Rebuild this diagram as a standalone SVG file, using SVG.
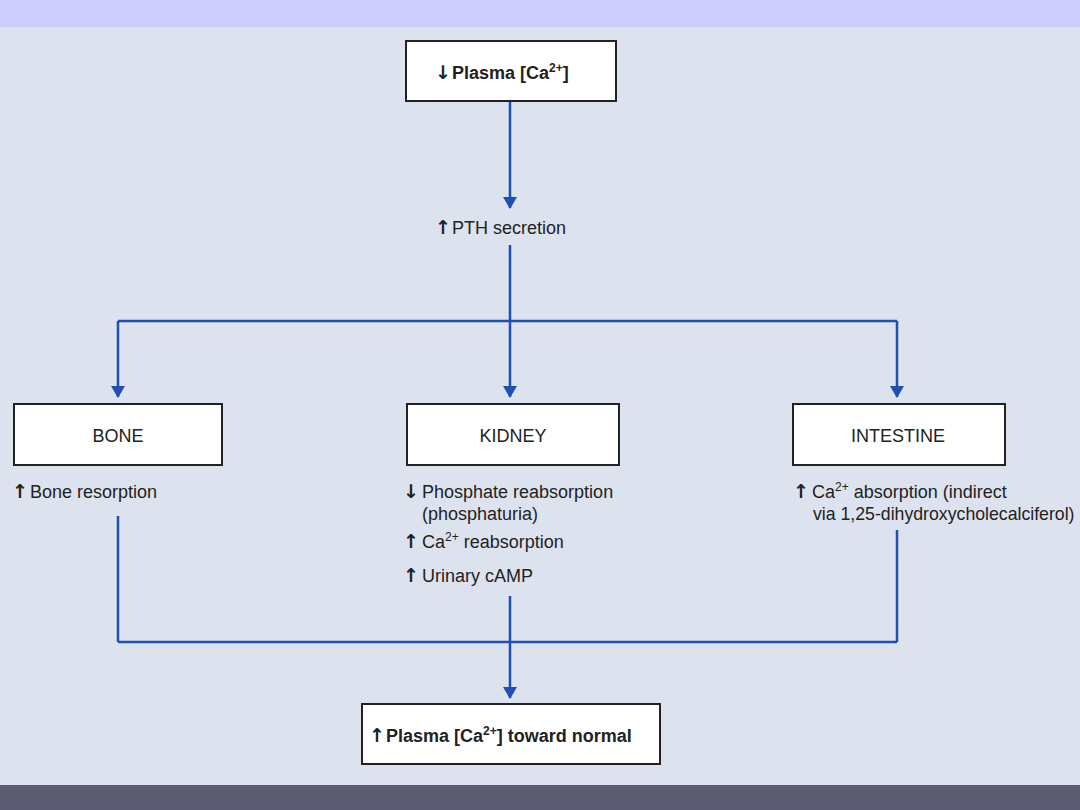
<svg xmlns="http://www.w3.org/2000/svg" width="1080" height="810" viewBox="0 0 1080 810">
<defs>
<marker id="ah" markerWidth="12" markerHeight="14" refX="11" refY="7" orient="auto" markerUnits="userSpaceOnUse" viewBox="0 0 12 14">
<path d="M0,0 L12,7 L0,14 Z" fill="#1f4fb0"/>
</marker>
<style>
.box{fill:#ffffff;stroke:#222;stroke-width:2}
.t{font-family:"Liberation Sans",Arial,sans-serif;font-size:18px;fill:#222}
.b{font-weight:bold}
.s{font-size:17.7px}
.a{font-family:"DejaVu Sans",sans-serif;font-weight:bold;font-size:19px}
.c{stroke:#1f4fb0;stroke-width:2.5;fill:none}
</style>
</defs>
<rect x="0" y="0" width="1080" height="810" fill="#dde2ef"/>
<rect x="0" y="0" width="1080" height="27" fill="#ccccfd"/>
<rect x="0" y="785" width="1080" height="25" fill="#5b5c72"/>

<g id="connectors">
<line class="c" x1="510" y1="101" x2="510" y2="208" marker-end="url(#ah)"/>
<polyline class="c" points="510,245 510,321"/>
<line class="c" x1="118" y1="321" x2="897" y2="321"/>
<line class="c" x1="118" y1="321" x2="118" y2="397" marker-end="url(#ah)"/>
<line class="c" x1="510" y1="321" x2="510" y2="397" marker-end="url(#ah)"/>
<line class="c" x1="897" y1="321" x2="897" y2="397" marker-end="url(#ah)"/>
<line class="c" x1="118" y1="516" x2="118" y2="642"/>
<line class="c" x1="897" y1="530" x2="897" y2="642"/>
<line class="c" x1="118" y1="642" x2="897" y2="642"/>
<line class="c" x1="510" y1="596" x2="510" y2="698" marker-end="url(#ah)"/>
</g>

<g id="plasma-low">
<rect class="box" x="406" y="41" width="210" height="60"/>
<text class="t b" x="435" y="79"><tspan class="a">↓</tspan><tspan x="452">Plasma [Ca</tspan><tspan font-size="12" dy="-7">2+</tspan><tspan dy="7">]</tspan></text>
</g>

<g id="pth">
<text class="t" x="435" y="234"><tspan class="a">↑</tspan><tspan x="452">PTH secretion</tspan></text>
</g>

<g id="bone">
<rect class="box" x="14" y="404" width="208" height="61"/>
<text class="t" x="118" y="442" text-anchor="middle">BONE</text>
<text class="t" x="12" y="498"><tspan class="a">↑</tspan><tspan x="30">Bone resorption</tspan></text>
</g>

<g id="kidney">
<rect class="box" x="407" y="404" width="212" height="61"/>
<text class="t" x="513" y="442" text-anchor="middle">KIDNEY</text>
<text class="t" x="403" y="498"><tspan class="a">↓</tspan><tspan x="422">Phosphate reabsorption</tspan></text>
<text class="t" x="422" y="520">(phosphaturia)</text>
<text class="t" x="403" y="548"><tspan class="a">↑</tspan><tspan x="422">Ca</tspan><tspan font-size="12" dy="-7">2+</tspan><tspan dy="7"> reabsorption</tspan></text>
<text class="t" x="403" y="582"><tspan class="a">↑</tspan><tspan x="422">Urinary cAMP</tspan></text>
</g>

<g id="intestine">
<rect class="box" x="793" y="404" width="212" height="61"/>
<text class="t" x="898" y="442" text-anchor="middle">INTESTINE</text>
<text class="t" x="793" y="498"><tspan class="a">↑</tspan><tspan x="812">Ca</tspan><tspan font-size="12" dy="-7">2+</tspan><tspan dy="7"> absorption (indirect</tspan></text>
<text class="t s" x="813" y="520">via 1,25-dihydroxycholecalciferol)</text>
</g>

<g id="plasma-normal">
<rect class="box" x="362" y="704" width="298" height="60"/>
<text class="t b" x="369" y="742"><tspan class="a">↑</tspan><tspan x="386">Plasma [Ca</tspan><tspan font-size="12" dy="-7">2+</tspan><tspan dy="7">] toward normal</tspan></text>
</g>
</svg>
